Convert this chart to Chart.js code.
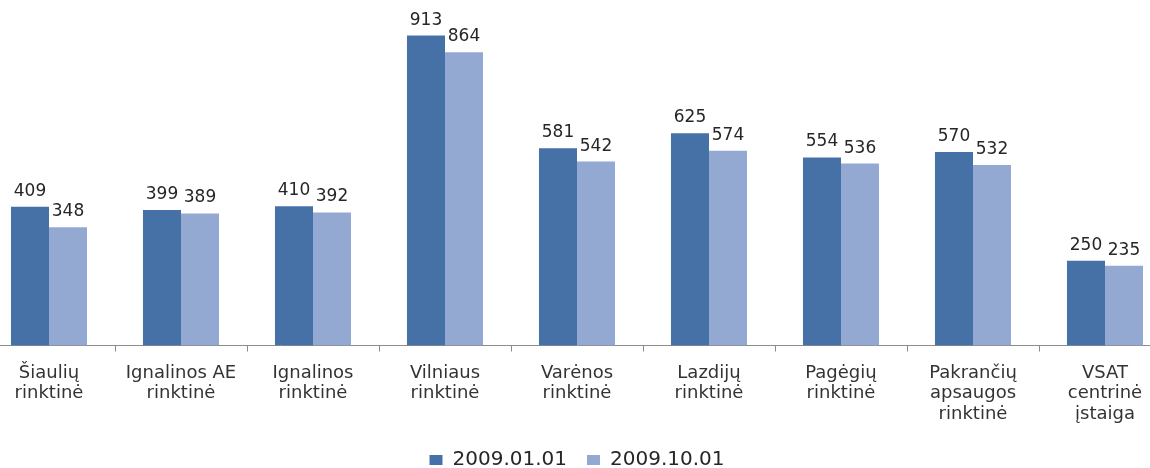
<!DOCTYPE html>
<html>
<head>
<meta charset="utf-8">
<script src="https://cdn.jsdelivr.net/npm/chart.js@4/dist/chart.umd.min.js"></script>
<style>
	html, body { margin: 0; padding: 0; background: #fff; overflow: hidden; }
	#wrap { position: absolute; left: -17px; top: 0; width: 1188px; height: 468px; }
</style>
</head>
<body>
<div id="wrap"><canvas id="chart"></canvas></div>
<script>
const categories = [
	['Šiaulių', 'rinktinė'],
	['Ignalinos AE', 'rinktinė'],
	['Ignalinos', 'rinktinė'],
	['Vilniaus', 'rinktinė'],
	['Varėnos', 'rinktinė'],
	['Lazdijų', 'rinktinė'],
	['Pagėgių', 'rinktinė'],
	['Pakrančių', 'apsaugos', 'rinktinė'],
	['VSAT', 'centrinė', 'įstaiga']
];
const jan2009 = [409, 399, 410, 913, 581, 625, 554, 570, 250];
const oct2009 = [348, 389, 392, 864, 542, 574, 536, 532, 235];
const seriesNames = ['2009.01.01', '2009.10.01'];

const fontFamily = '"DejaVu Sans", sans-serif';

// draw the value above every bar
const valueLabels = {
	id: 'valueLabels',
	afterDatasetsDraw(chart) {
		const c = chart.ctx;
		c.save();
		c.font = '17px ' + fontFamily;
		c.fillStyle = '#262626';
		c.textAlign = 'center';
		c.textBaseline = 'alphabetic';
		chart.data.datasets.forEach((ds, i) => {
			chart.getDatasetMeta(i).data.forEach((bar, j) => {
				c.fillText(ds.data[j], bar.x, bar.y - 11);
			});
		});
		c.restore();
	}
};

new Chart(document.getElementById('chart'), {
	type: 'bar',
	data: {
		labels: categories,
		datasets: [
			{
				label: seriesNames[0],
				data: jan2009,
				backgroundColor: '#4571a7',
				categoryPercentage: 0.576,
				barPercentage: 1
			},
			{
				label: seriesNames[1],
				data: oct2009,
				backgroundColor: '#94a9d2',
				categoryPercentage: 0.576,
				barPercentage: 1
			}
		]
	},
	options: {
		responsive: true,
		maintainAspectRatio: false,
		animation: false,
		layout: { padding: { top: 6, left: 0, right: 0, bottom: -12 } },
		scales: {
			x: {
				grid: {
					drawOnChartArea: false,
					color: '#8c8c8c',
					tickLength: 6
				},
				border: { color: '#8c8c8c' },
				ticks: {
					color: '#333',
					font: { family: fontFamily, size: 18, lineHeight: 1.12 },
					maxRotation: 0,
					autoSkip: false,
					padding: 12
				},
				// a bit less empty space under the labels
				afterFit(scale) {
					scale.height -= 6;
				}
			},
			y: {
				display: false,
				min: 0,
				max: 1000
			}
		},
		plugins: {
			legend: {
				position: 'bottom',
				labels: {
					color: '#262626',
					font: { family: fontFamily, size: 20 },
					boxWidth: 13,
					boxHeight: 10,
					padding: 20
				}
			},
			tooltip: { enabled: false }
		}
	},
	plugins: [valueLabels]
});
</script>
</body>
</html>
